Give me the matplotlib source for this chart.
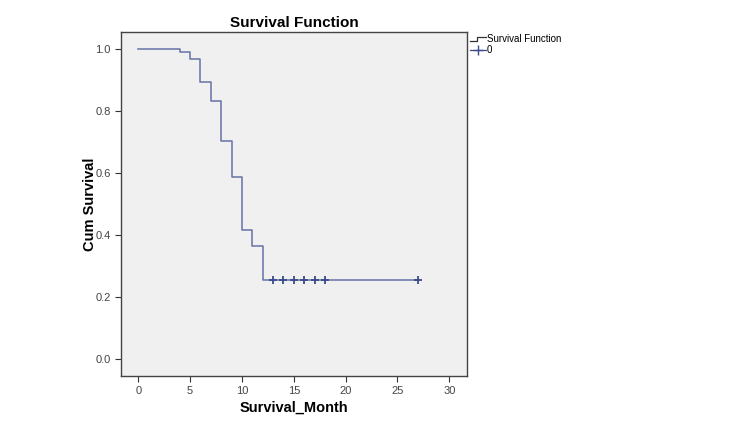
import matplotlib
matplotlib.use('Agg')
import matplotlib.pyplot as plt
from matplotlib.lines import Line2D
from matplotlib.legend_handler import HandlerBase

plt.rcParams['font.family'] = ['Liberation Sans', 'DejaVu Sans']

# Kaplan-Meier estimate
event_times = [0, 4, 5, 6, 7, 8, 9, 10, 11, 12, 27]
survival = [1.0, 0.991, 0.967, 0.893, 0.832, 0.704, 0.587, 0.416, 0.365, 0.255, 0.255]
censor_times = [13, 14, 15, 16, 17, 18, 27]
censor_surv = [0.255, 0.255, 0.255, 0.255, 0.255, 0.255, 0.255]

x_ticks = [0, 5, 10, 15, 20, 25, 30]
y_ticks = [0.0, 0.2, 0.4, 0.6, 0.8, 1.0]

line_col = '#6672a6'
mark_col = '#3a4a8a'


class StepHandler(HandlerBase):
  def create_artists(self, legend, orig, xd, yd, w, h, fontsize, trans):
    xs = [xd, xd + w * 0.45, xd + w * 0.45, xd + w]
    ys = [yd + h * 0.2, yd + h * 0.2, yd + h * 0.8, yd + h * 0.8]
    ln = Line2D(xs, ys, color='#333333', lw=0.9, transform=trans)
    return [ln]


fig = plt.figure(figsize=(7.5, 4.22), dpi=100)
ax = fig.add_axes([0.1613, 0.109, 0.4613, 0.815])
ax.set_facecolor('#f0f0f0')

ax.step(event_times, survival, where='post', color=line_col, lw=1.1)
ax.plot(censor_times, censor_surv, linestyle='none', marker='+', markersize=6,
        markeredgewidth=1.3, color=mark_col)

ax.set_xlim(-1.67, 31.7)
ax.set_ylim(-0.055, 1.055)
ax.set_xticks(x_ticks)
ax.set_yticks(y_ticks)
ax.set_xticklabels([str(t) for t in x_ticks])
ax.set_yticklabels(['{:.1f}'.format(t) for t in y_ticks])
ax.tick_params(direction='out', length=4, width=0.8, labelsize=8, colors='#333333',
               labelcolor='#444444')
for s in ax.spines.values():
  s.set_color('#444444')
  s.set_linewidth(1.0)

ax.set_xlabel('Survival_Month', fontsize=10.5, fontweight='bold', labelpad=3)
ax.set_ylabel('Cum Survival', fontsize=10.5, fontweight='bold', labelpad=-1)
ax.set_title('Survival Function', fontsize=11, fontweight='bold', pad=4)

h1 = Line2D([], [], color='#333333')
h2 = Line2D([], [], color=mark_col, marker='+', markersize=7, lw=0.9)
leg = fig.legend([h1, h2], ['Survival Function', '0'],
                 handler_map={h1: StepHandler()},
                 loc='upper left', bbox_to_anchor=(0.622, 0.928),
                 frameon=False, fontsize=7, handlelength=1.6, handletextpad=0.1,
                 labelspacing=0.1, borderaxespad=0)

fig.savefig('out.png', dpi=100, facecolor='white')
